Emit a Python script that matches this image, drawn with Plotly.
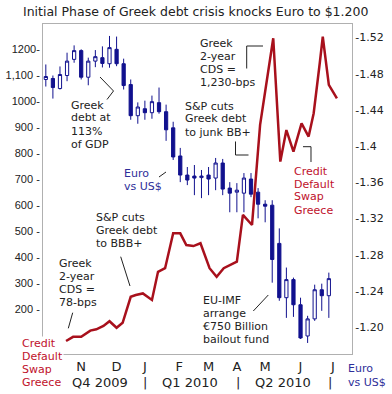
import plotly.graph_objects as go

# ---------------- data ----------------
weeks = ["2009-09-25", "2009-10-02", "2009-10-09", "2009-10-16", "2009-10-23", "2009-10-30",
         "2009-11-06", "2009-11-13", "2009-11-20", "2009-11-27", "2009-12-04", "2009-12-11",
         "2009-12-18", "2009-12-25", "2010-01-01", "2010-01-08", "2010-01-15", "2010-01-22",
         "2010-01-29", "2010-02-05", "2010-02-12", "2010-02-19", "2010-02-26", "2010-03-05",
         "2010-03-12", "2010-03-19", "2010-03-26", "2010-04-02", "2010-04-09", "2010-04-16",
         "2010-04-23", "2010-04-30", "2010-05-07", "2010-05-14", "2010-05-21", "2010-05-28",
         "2010-06-04", "2010-06-11", "2010-06-18", "2010-06-25", "2010-07-02"]
eur_open = [1.4737, 1.4748, 1.4637, 1.4781, 1.4959, 1.5056, 1.4762, 1.4940, 1.4978, 1.4911,
            1.5070, 1.4911, 1.4681, 1.4337, 1.4414, 1.4370, 1.4481, 1.4381, 1.4203, 1.3892,
            1.3681, 1.3670, 1.3653, 1.3681, 1.3648, 1.3814, 1.3537, 1.3492, 1.3481, 1.3637,
            1.3492, 1.3359, 1.3348, 1.2926, 1.2326, 1.2526, 1.2248, 1.1903, 1.2092, 1.2414,
            1.2348]
eur_high = [1.4903, 1.4781, 1.4881, 1.5033, 1.5114, 1.5070, 1.4978, 1.5062, 1.5103, 1.5218,
            1.5211, 1.4967, 1.4737, 1.4484, 1.4503, 1.4559, 1.4648, 1.4459, 1.4270, 1.3981,
            1.3770, 1.3792, 1.3737, 1.3770, 1.3870, 1.3859, 1.3603, 1.3592, 1.3703, 1.3703,
            1.3537, 1.3403, 1.3403, 1.3092, 1.2659, 1.2548, 1.2326, 1.2126, 1.2470, 1.2481,
            1.2603]
eur_low = [1.4659, 1.4526, 1.4626, 1.4718, 1.4922, 1.4737, 1.4673, 1.4873, 1.4870, 1.4867,
           1.4884, 1.4626, 1.4292, 1.4248, 1.4292, 1.4303, 1.4359, 1.4059, 1.3848, 1.3603,
           1.3570, 1.3459, 1.3426, 1.3459, 1.3514, 1.3459, 1.3270, 1.3270, 1.3270, 1.3437,
           1.3203, 1.3159, 1.2492, 1.2292, 1.2103, 1.2114, 1.1870, 1.1826, 1.2070, 1.2181,
           1.2103]
eur_close = [1.4770, 1.4648, 1.4792, 1.4940, 1.5056, 1.4762, 1.4940, 1.4989, 1.4914, 1.5089,
             1.4911, 1.4670, 1.4337, 1.4433, 1.4370, 1.4492, 1.4381, 1.4181, 1.3881, 1.3681,
             1.3626, 1.3648, 1.3670, 1.3637, 1.3814, 1.3526, 1.3481, 1.3514, 1.3648, 1.3470,
             1.3359, 1.3337, 1.2748, 1.2326, 1.2526, 1.2248, 1.1881, 1.2092, 1.2414, 1.2348,
             1.2537]

cds_dates = ["2009-10-15", "2009-10-17", "2009-10-22", "2009-10-30", "2009-11-05", "2009-11-08",
             "2009-11-14", "2009-11-21", "2009-11-27", "2009-12-04", "2009-12-10", "2009-12-18",
             "2009-12-23", "2009-12-30", "2010-01-08", "2010-01-14", "2010-01-21", "2010-01-29",
             "2010-02-05", "2010-02-11", "2010-02-18", "2010-02-25", "2010-03-06", "2010-03-13",
             "2010-03-20", "2010-03-26", "2010-04-02", "2010-04-08", "2010-04-17", "2010-04-25",
             "2010-04-30", "2010-05-05", "2010-05-08", "2010-05-15", "2010-05-21", "2010-05-28",
             "2010-06-05", "2010-06-12", "2010-06-17", "2010-06-23", "2010-06-26", "2010-07-02",
             "2010-07-10"]
cds_bps = [77, 81, 93, 93, 109, 117, 122, 135, 153, 128, 147, 247, 254, 260, 235, 343, 357,
           491, 491, 446, 442, 453, 357, 324, 357, 369, 382, 562, 523, 908, 1035, 1177, 1241,
           767, 888, 805, 914, 863, 953, 1145, 1247, 1062, 1010]

month_ticks = ["2009-10-30", "2009-12-04", "2010-01-01", "2010-02-04", "2010-03-05",
               "2010-04-02", "2010-04-30", "2010-06-04", "2010-07-06"]
month_labels = ["N", "D", "J", "F", "M", "A", "M", "J", "J"]
quarter_dates = ["2009-11-18", "2010-01-01", "2010-02-15", "2010-04-03", "2010-05-18", "2010-07-03"]
quarter_labels = ["Q4 2009", "|", "Q1 2010", "|", "Q2 2010", "|"]

eur_ticks = [1.52, 1.48, 1.44, 1.40, 1.36, 1.32, 1.28, 1.24, 1.20]
eur_ticktext = ["-1.52", "-1.48", "-1.44", "-1.4", "-1.36", "-1.32", "-1.28", "-1.24", "-1.20"]
cds_ticks = [1200, 1100, 1000, 900, 800, 700, 600, 500, 400, 300, 200]
cds_ticktext = ["1200-", "1,100 -", "1000-", "900 -", "800 -", "700 -", "600 -",
                "500 -", "400 -", "300 -", "200 -"]

title_text = "Initial Phase of Greek debt crisis knocks Euro to $1.200"
note_debt = ["Greek", "debt at", "113%", "of GDP"]
note_euro = ["Euro", "vs US$"]
note_junk = ["S&P cuts", "Greek debt", "to junk BB+"]
note_peak = ["Greek", "2-year", "CDS =", "1,230-bps"]
note_cds = ["Credit", "Default", "Swap", "Greece"]
note_bbb = ["S&P cuts", "Greek debt", "to BBB+"]
note_start = ["Greek", "2-year", "CDS =", "78-bps"]
note_imf = ["EU-IMF", "arrange", "€750 Billion", "bailout fund"]

# ---------------- styling / layout ----------------
W, H = 392, 394
ML, MR, MT, MB = 43, 40, 24, 40
PW, PH = W - ML - MR, H - MT - MB
NAVY = "#11118e"
CDS_RED = "#a8101c"
TXT_RED = "#c0112b"
TXT_BLUE = "#2e2e99"
DARK = "#222222"
GRID = "#b0b0b0"
FONT = "DejaVu Sans"


def px(x):
    return (x - ML) / PW


def py(y):
    return (H - MB - y) / PH


fig = go.Figure()
fig.add_trace(go.Candlestick(
    x=weeks, open=eur_open, high=eur_high, low=eur_low, close=eur_close,
    yaxis="y",
    increasing=dict(line=dict(color=NAVY, width=1), fillcolor="white"),
    decreasing=dict(line=dict(color=NAVY, width=1), fillcolor=NAVY),
    whiskerwidth=0, hoverinfo="skip", showlegend=False,
))
fig.add_trace(go.Scatter(
    x=cds_dates, y=cds_bps, yaxis="y2", mode="lines",
    line=dict(color=CDS_RED, width=2.5), hoverinfo="skip", showlegend=False,
))

annotations = []


def add_block(lines, x, y0, color=DARK, step=13.0, bg=None, size=11):
    for i, t in enumerate(lines):
        a = dict(text=t, xref="paper", yref="paper", x=px(x), y=py(y0 + i * step),
                 xanchor="left", yanchor="middle", showarrow=False,
                 font=dict(family=FONT, size=size, color=color))
        if bg:
            a.update(bgcolor=bg, height=step, borderpad=0)
        annotations.append(a)


annotations.append(dict(text=title_text, xref="paper", yref="paper", x=px(195), y=py(11),
                        xanchor="center", yanchor="middle", showarrow=False,
                        font=dict(family=FONT, size=12.5, color=DARK)))
add_block(note_debt, 69.3, 105)
add_block(note_euro, 122, 173, color=TXT_BLUE)
add_block(note_junk, 183.3, 106)
add_block(note_peak, 197.7, 43.5)
add_block(note_cds, 291.7, 171, color=TXT_RED)
add_block(note_bbb, 94.3, 217.5)
add_block(note_start, 57.3, 263)
add_block(note_cds, 20.7, 343.5, color=TXT_RED, bg="white")
add_block(note_imf, 201, 300.5)
add_block(note_euro, 345.7, 368.5, color=TXT_BLUE, step=14)

for d, t in zip(quarter_dates, quarter_labels):
    annotations.append(dict(text=t, xref="x", yref="paper", x=d, y=py(382),
                            xanchor="center", yanchor="middle", showarrow=False,
                            font=dict(family=FONT, size=13, color=DARK)))


def path(points):
    s = "M " + " L ".join(f"{px(x):.5f},{py(y):.5f}" for x, y in points)
    return dict(type="path", xref="paper", yref="paper", path=s,
                line=dict(color=DARK, width=1), layer="above")


shapes = [
    path([(100, 77), (113.5, 91), (107, 99.5)]),
    path([(159, 177), (166, 172)]),
    path([(235.5, 141.5), (235.5, 155), (248.5, 155)]),
    path([(246.7, 68.5), (246.7, 46), (263, 46)]),
    path([(303, 146.7), (311, 146.7), (311, 162)]),
    path([(120.7, 256.7), (130, 286)]),
    path([(72.7, 312.7), (68.3, 328.3)]),
    path([(253.3, 311), (268.3, 295)]),
]

fig.update_layout(
    width=W, height=H, autosize=False,
    margin=dict(l=ML, r=MR, t=MT, b=MB, pad=0),
    paper_bgcolor="white", plot_bgcolor="white",
    hovermode=False, showlegend=False,
    annotations=annotations, shapes=shapes,
    xaxis=dict(
        type="date", range=["2009-09-22 05:00", "2010-07-24 22:00"],
        tickvals=month_ticks, ticktext=month_labels, ticks="",
        tickfont=dict(family=FONT, size=13, color=DARK),
        showgrid=False, zeroline=False, showline=True, mirror=True,
        linecolor=GRID, linewidth=1, rangeslider=dict(visible=False),
        automargin=False,
    ),
    yaxis=dict(
        side="right", range=[1.1704, 1.5350],
        tickvals=eur_ticks, ticktext=eur_ticktext, ticks="",
        tickfont=dict(family=FONT, size=11, color=DARK),
        showgrid=False, zeroline=False, showline=True, linecolor=GRID, linewidth=1,
        automargin=False,
    ),
    yaxis2=dict(
        overlaying="y", side="left", range=[27, 1296],
        tickvals=cds_ticks, ticktext=cds_ticktext, ticks="",
        tickfont=dict(family="Liberation Sans", size=11, color=DARK),
        showgrid=False, zeroline=False, showline=True, linecolor=GRID, linewidth=1,
        automargin=False,
    ),
    boxgap=0.35,
)

fig.write_html("out.html", config={"displayModeBar": False},
               post_script="document.body.style.margin='0px';")
